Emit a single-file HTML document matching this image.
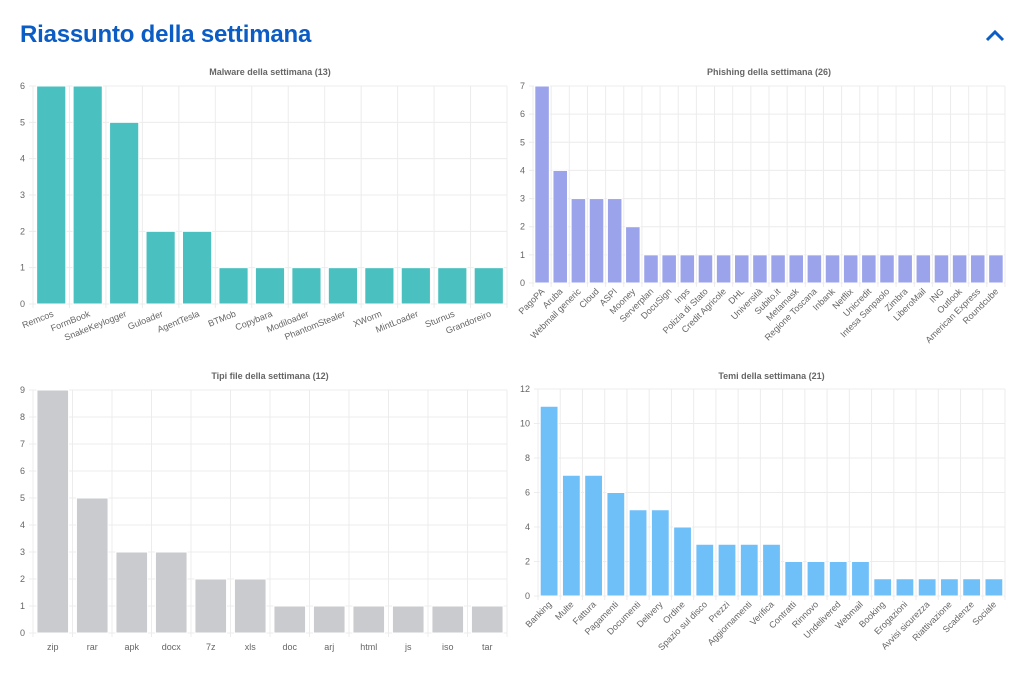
<!DOCTYPE html>
<html><head><meta charset="utf-8"><style>
body{margin:0;background:#fff;width:1024px;height:675px;overflow:hidden;font-family:"Liberation Sans",sans-serif}
h1{position:absolute;left:20px;top:21px;margin:0;font-size:24px;font-weight:bold;color:#0b5cc4;font-family:"Liberation Sans",sans-serif;letter-spacing:-0.2px}
svg{position:absolute;left:0;top:0}
</style></head><body>
<h1>Riassunto della settimana</h1>
<svg id="s" width="1024" height="675" xmlns="http://www.w3.org/2000/svg">
<polyline points="987,40 995,32 1003,40" fill="none" stroke="#0b5cc4" stroke-width="3"/>
</svg>
<script>
const S=document.getElementById('s');let h='';
function chart(o){
 const {x0,x1,y0,yb,max,step,title,ty,labels,vals,color,rot,ly}=o;
 const n=labels.length,cw=(x1-x0)/n;
 h+=`<text x="${(x0+x1)/2}" y="${ty}" font-size="9" font-weight="bold" fill="#666" text-anchor="middle">${title}</text>`;
 for(let v=0;v<=max;v+=step){const y=yb-(yb-y0)*v/max;
  h+=`<line x1="${x0-4}" x2="${x1}" y1="${y}" y2="${y}" stroke="#ececec"/>`;
  h+=`<text x="${x0-8}" y="${y+3}" font-size="9" fill="#666" text-anchor="end">${v}</text>`;}
 for(let i=0;i<=n;i++){const x=x0+i*cw;h+=`<line x1="${x}" x2="${x}" y1="${y0}" y2="${yb+4}" stroke="#ececec"/>`;}
 labels.forEach((l,i)=>{const cx=x0+(i+.5)*cw,bw=cw*0.8,y=yb-(yb-y0)*vals[i]/max;
  h+=`<rect x="${cx-bw/2}" y="${y}" width="${bw}" height="${yb-y}" fill="${color}" stroke="#fff" stroke-width="1"/>`;
  if(rot)h+=`<text transform="translate(${cx+3},${ly}) rotate(${rot})" font-size="9" fill="#666" text-anchor="end">${l}</text>`;
  else h+=`<text x="${cx}" y="${ly}" font-size="9" fill="#666" text-anchor="middle">${l}</text>`;});
}
chart({x0:33,x1:507,y0:86,yb:304,max:6,step:1,title:"Malware della settimana (13)",ty:75,color:"#4bc0c0",rot:-22,ly:316,
labels:["Remcos","FormBook","SnakeKeylogger","Guloader","AgentTesla","BTMob","Copybara","Modiloader","PhantomStealer","XWorm","MintLoader","Sturnus","Grandoreiro"],vals:[6,6,5,2,2,1,1,1,1,1,1,1,1]});
chart({x0:533,x1:1005,y0:86,yb:283,max:7,step:1,title:"Phishing della settimana (26)",ty:75,color:"#9ba3eb",rot:-45,ly:292,
labels:["PagoPA","Aruba","Webmail generic","Cloud","ASPI","Mooney","Serverplan","DocuSign","Inps","Polizia di Stato","Credit Agricole","DHL","Università","Subito.it","Metamask","Regione Toscana","Inbank","Netflix","Unicredit","Intesa Sanpaolo","Zimbra","LiberoMail","ING","Outlook","American Express","Roundcube"],vals:[7,4,3,3,3,2,1,1,1,1,1,1,1,1,1,1,1,1,1,1,1,1,1,1,1,1]});
chart({x0:33,x1:507,y0:390,yb:633,max:9,step:1,title:"Tipi file della settimana (12)",ty:379,color:"#c9cbcf",rot:0,ly:650,
labels:["zip","rar","apk","docx","7z","xls","doc","arj","html","js","iso","tar"],vals:[9,5,3,3,2,2,1,1,1,1,1,1]});
chart({x0:538,x1:1005,y0:389,yb:596,max:12,step:2,title:"Temi della settimana (21)",ty:379,color:"#6fbff9",rot:-45,ly:605,
labels:["Banking","Multe","Fattura","Pagamenti","Documenti","Delivery","Ordine","Spazio sul disco","Prezzi","Aggiornamenti","Verifica","Contratti","Rinnovo","Undelivered","Webmail","Booking","Erogazioni","Avvisi sicurezza","Riattivazione","Scadenze","Sociale"],vals:[11,7,7,6,5,5,4,3,3,3,3,2,2,2,2,1,1,1,1,1,1]});
S.insertAdjacentHTML('beforeend',h);
</script>
</body></html>
